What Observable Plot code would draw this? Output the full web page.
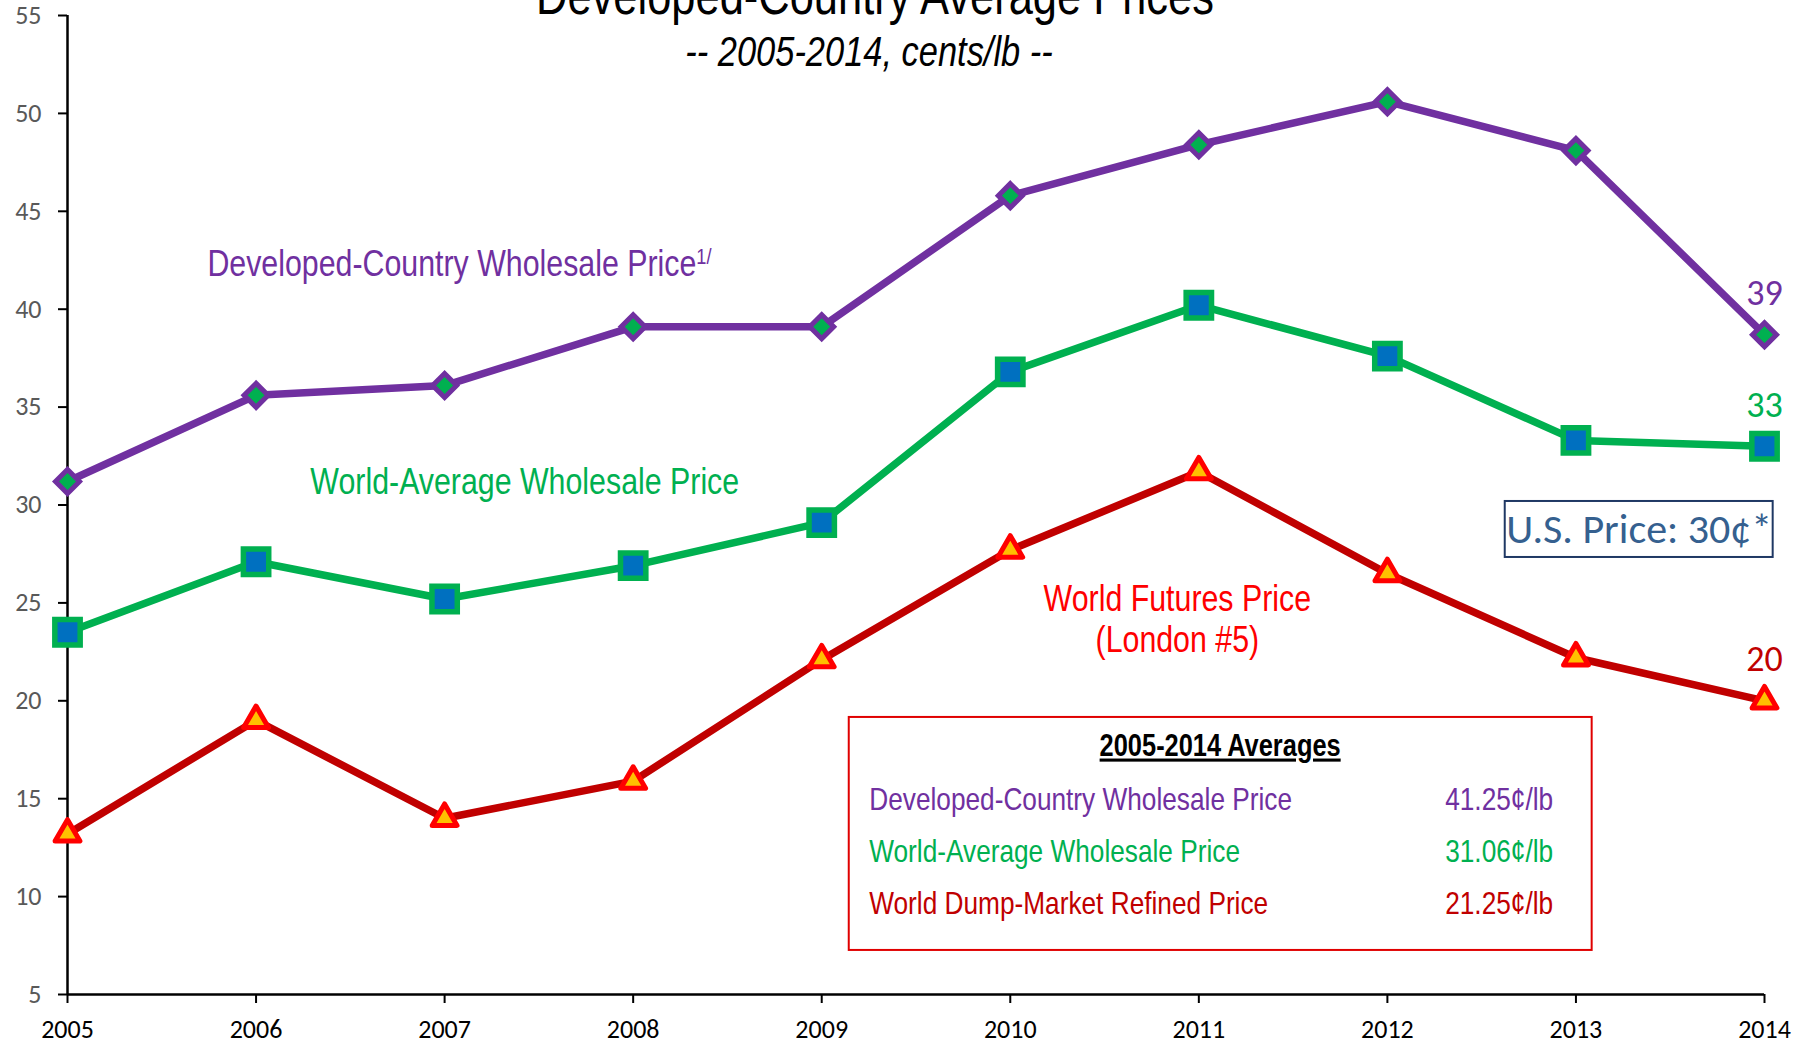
<!DOCTYPE html>
<html><head><meta charset="utf-8">
<script src="https://cdn.jsdelivr.net/npm/d3@7"></script>
<script src="https://cdn.jsdelivr.net/npm/@observablehq/plot@0.6"></script>
<style>
html,body{margin:0;padding:0;background:#fff;overflow:hidden}
#chart svg{display:block;overflow:visible}
.avg-title text{text-decoration:underline}
</style></head><body><div id="chart"></div>
<script>
// ---- data ----
const years = [2005, 2006, 2007, 2008, 2009, 2010, 2011, 2012, 2013, 2014];
const developed = [31.2, 35.6, 36.1, 39.1, 39.1, 45.8, 48.4, 50.6, 48.1, 38.7];
const worldAverage = [23.5, 27.1, 25.2, 26.9, 29.1, 36.8, 40.2, 37.6, 33.3, 33.0];
const worldFutures = [13.2, 19.0, 14.0, 15.9, 22.1, 27.7, 31.7, 26.5, 22.2, 20.0];
const yTicks = [5, 10, 15, 20, 25, 30, 35, 40, 45, 50, 55];
const endLabels = ["39", "33", "20"];
const seriesNames = ["Developed-Country Wholesale Price", "World-Average Wholesale Price", "World Futures Price", "(London #5)"];
const averageTitle = "2005-2014 Averages";
const averageNames = ["Developed-Country Wholesale Price", "World-Average Wholesale Price", "World Dump-Market Refined Price"];
const averageValues = ["41.25¢/lb", "31.06¢/lb", "21.25¢/lb"];
const usPriceNote = "U.S. Price: 30¢*";
const title = "Developed-Country Average Prices";
const subtitle = "-- 2005-2014, cents/lb --";

// ---- styles ----
const NARROW = '"Liberation Sans",Arial,sans-serif'; // horizontally condensed below (Arial Narrow look)
const CAL = 'Carlito,Calibri,Lato,sans-serif';
const PURPLE = "#7030A0", GREEN = "#00B050", DARKRED = "#C00000", RED = "#FF0000", BLUE = "#0070C0", GOLD = "#FFC000";

const rows = years.map((year, i) => ({year, developed: developed[i], worldAverage: worldAverage[i], worldFutures: worldFutures[i]}));
const ends = [
  {year: 2014, value: developed[9], label: endLabels[0], color: PURPLE},
  {year: 2014, value: worldAverage[9], label: endLabels[1], color: GREEN},
  {year: 2014, value: worldFutures[9], label: endLabels[2], color: DARKRED}
];
// annotation placement (data coordinates)
const devLabel = [{t: seriesNames[0], x: 2005.742, y: 42.28}];
const avgLabel = [{t: seriesNames[1], x: 2006.288, y: 31.15}];
const futLabel = [{t: seriesNames[2], x: 2010.886, y: 25.17}, {t: seriesNames[3], x: 2010.886, y: 23.08}];
const avgBox = {x1: 2009.146, x2: 2013.086, y1: 19.15, y2: 7.25};
const avgRowY = [14.96, 12.3, 9.65];
const avgRows = averageNames.map((t, i) => ({t, v: averageValues[i], y: avgRowY[i], color: [PURPLE, GREEN, DARKRED][i]}));
const usBox = {x1: 2012.625, x2: 2014.046, y1: 30.18, y2: 27.32};

const plot = Plot.plot({
  width: 1816, height: 1043,
  marginLeft: 67, marginRight: 52, marginTop: 15, marginBottom: 49,
  x: {domain: [2005, 2014]},
  y: {domain: [5, 55]},
  style: {background: "white", overflow: "visible"},
  marks: [
    Plot.axisY({ticks: yTicks, label: null, tickSize: 9, tickFormat: () => "", stroke: "black", strokeWidth: 2}),
    Plot.axisX({ticks: years, label: null, tickSize: 9, tickFormat: () => "", stroke: "black", strokeWidth: 2}),
    Plot.text(yTicks, {x: 2005, y: d => d, text: d => String(d), dx: -26, textAnchor: "end", fontSize: 26, fontFamily: CAL, fill: "#595959"}),
    Plot.text(years, {x: d => d, y: 5, text: d => String(d), dy: 35, fontSize: 26, fontFamily: CAL, fill: "black"}),
    Plot.ruleX([2005], {stroke: "black", strokeWidth: 2.5}),
    Plot.ruleY([5], {stroke: "black", strokeWidth: 2.5}),
    Plot.line(rows, {x: "year", y: "developed", stroke: PURPLE, strokeWidth: 7.5}),
    Plot.line(rows, {x: "year", y: "worldAverage", stroke: GREEN, strokeWidth: 7.5}),
    Plot.line(rows, {x: "year", y: "worldFutures", stroke: DARKRED, strokeWidth: 7.5}),
    Plot.dot(rows, {x: "year", y: "developed", symbol: "diamond2", r: 10.8, fill: GREEN, stroke: PURPLE, strokeWidth: 5}),
    Plot.dot(rows, {x: "year", y: "worldAverage", symbol: "square", r: 14.3, fill: BLUE, stroke: GREEN, strokeWidth: 5.5}),
    Plot.dot(rows, {x: "year", y: "worldFutures", symbol: "triangle", r: 9.2, fill: GOLD, stroke: RED, strokeWidth: 5, strokeLinejoin: "round"}),
    Plot.text(ends, {x: "year", y: "value", text: "label", fill: "color", dy: -41, fontSize: 36, fontFamily: CAL}),
    Plot.text(devLabel, {x: "x", y: "y", text: "t", fill: PURPLE, textAnchor: "start", fontSize: 37, fontFamily: NARROW, className: "narrow dev-label"}),
    Plot.text(avgLabel, {x: "x", y: "y", text: "t", fill: GREEN, textAnchor: "start", fontSize: 37, fontFamily: NARROW, className: "narrow"}),
    Plot.text(futLabel, {x: "x", y: "y", text: "t", fill: RED, textAnchor: "middle", fontSize: 37, fontFamily: NARROW, className: "narrow"}),
    // US price note
    Plot.rect([usBox], {x1: "x1", x2: "x2", y1: "y1", y2: "y2", fill: "white", stroke: "#1F3864", strokeWidth: 2}),
    Plot.text([usPriceNote], {x: (usBox.x1 + usBox.x2) / 2, y: (usBox.y1 + usBox.y2) / 2, text: d => d, fill: "#35608F", fontSize: 42, fontFamily: CAL}),
    // averages box
    Plot.rect([avgBox], {x1: "x1", x2: "x2", y1: "y1", y2: "y2", fill: "white", stroke: "#E00000", strokeWidth: 2}),
    Plot.text([averageTitle], {x: 2011.113, y: 17.67, text: d => d, fill: "black", fontSize: 31, fontWeight: "bold", fontFamily: NARROW, className: "narrow avg-title"}),
    Plot.text(avgRows, {x: 2009.252, y: "y", text: "t", fill: "color", textAnchor: "start", fontSize: 32, fontFamily: NARROW, className: "narrow"}),
    Plot.text(avgRows, {x: 2012.879, y: "y", text: "v", fill: "color", textAnchor: "end", fontSize: 32, fontFamily: NARROW, className: "narrow"}),
    // title & subtitle
    Plot.text([title], {frameAnchor: "top", dx: -41, dy: -2, lineAnchor: "bottom", text: d => d, fontSize: 53, fontFamily: NARROW, fill: "black", className: "narrow"}),
    Plot.text([subtitle], {frameAnchor: "top", dx: -47, dy: 37, lineAnchor: "middle", text: d => d, fontSize: 42, fontStyle: "italic", fontFamily: NARROW, fill: "black", className: "narrow"})
  ]
});
document.getElementById("chart").appendChild(plot);
// superscript footnote marker
d3.select(plot).selectAll(".dev-label text").append("tspan").attr("baseline-shift", "super").attr("font-size", "60%").text("1/");
// Arial-Narrow look: condense the text horizontally around its anchor point
d3.select(plot).selectAll(".narrow text").each(function() {
  const t = this.getAttribute("transform") || "";
  const x = parseFloat(this.getAttribute("x"));
  const px = Number.isFinite(x) ? x : 0;
  this.setAttribute("transform", `${t} translate(${px},0) scale(0.82,1) translate(${-px},0)`);
});
</script></body></html>
